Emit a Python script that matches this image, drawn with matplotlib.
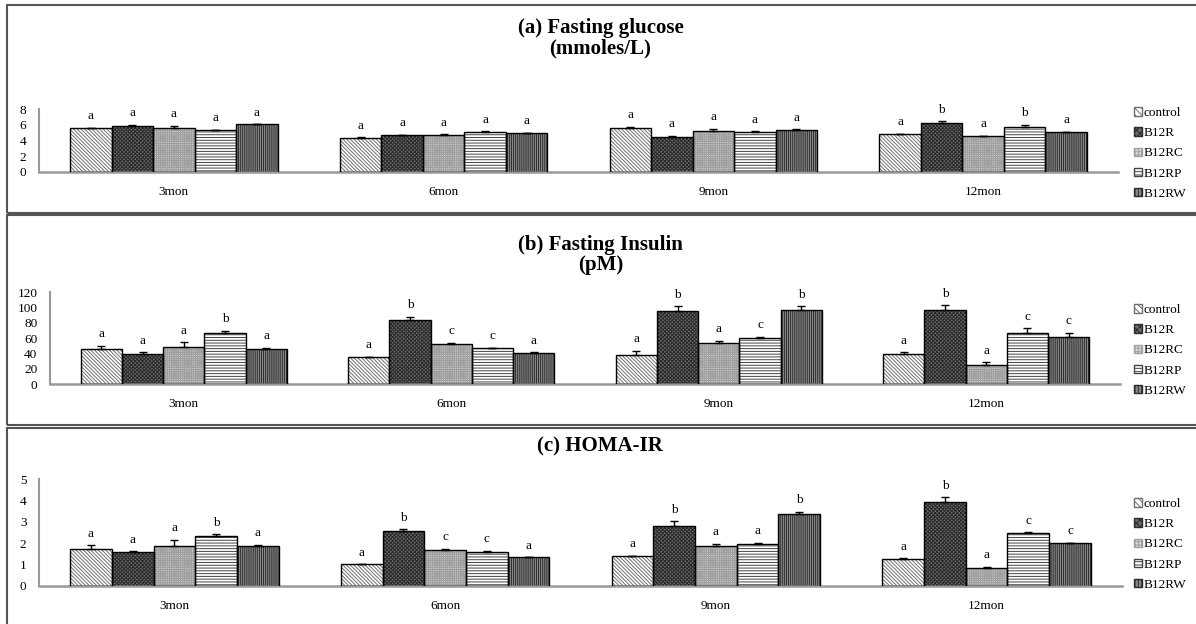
import numpy as np
import matplotlib
matplotlib.use("Agg")
import matplotlib.pyplot as plt
from matplotlib.patches import Rectangle, Patch

plt.rcParams['font.family'] = ['Liberation Serif', 'DejaVu Serif']
plt.rcParams['hatch.linewidth'] = 0.7

months = ['3mon', '6mon', '9mon', '12mon']
groups = ['control', 'B12R', 'B12RC', 'B12RP', 'B12RW']

# (a) fasting glucose, rows = groups, cols = months
glucose = [[5.55, 4.27, 5.55, 4.83],
           [5.80, 4.70, 4.49, 6.26],
           [5.55, 4.70, 5.20, 4.60],
           [5.33, 5.08, 5.08, 5.67],
           [6.05, 5.00, 5.33, 5.04]]
glucose_err = [[0.08, 0.15, 0.20, 0.0],
               [0.20, 0.0, 0.10, 0.20],
               [0.30, 0.10, 0.30, 0.0],
               [0.05, 0.10, 0.10, 0.30],
               [0.0, 0.0, 0.10, 0.05]]
glucose_sig = [['a', 'a', 'a', 'a'],
               ['a', 'a', 'a', 'b'],
               ['a', 'a', 'a', 'a'],
               ['a', 'a', 'a', 'b'],
               ['a', 'a', 'a', 'a']]

# (b) fasting insulin
insulin = [[46, 35.2, 38.6, 40],
           [40, 84, 95.6, 97],
           [48.6, 52, 53.8, 24.8],
           [67, 47, 60, 67.3],
           [46, 41, 96.5, 62]]
insulin_err = [[4, 1, 5, 2],
               [2, 4, 6, 6],
               [6.5, 2, 3, 4],
               [3, 1, 2, 5.7],
               [2, 1, 5, 5]]
insulin_sig = [['a', 'a', 'a', 'a'],
               ['a', 'b', 'b', 'b'],
               ['a', 'c', 'a', 'a'],
               ['b', 'c', 'c', 'c'],
               ['a', 'a', 'b', 'c']]

# (c) HOMA-IR
homa = [[1.71, 1.01, 1.40, 1.26],
        [1.59, 2.58, 2.80, 3.91],
        [1.85, 1.67, 1.88, 0.83],
        [2.32, 1.57, 1.96, 2.46],
        [1.85, 1.34, 3.35, 2.01]]
homa_err = [[0.19, 0.0, 0.0, 0.03],
            [0.03, 0.07, 0.23, 0.23],
            [0.30, 0.07, 0.10, 0.06],
            [0.10, 0.07, 0.05, 0.06],
            [0.07, 0.0, 0.12, 0.02]]
homa_sig = [['a', 'a', 'a', 'a'],
            ['a', 'b', 'b', 'b'],
            ['a', 'c', 'a', 'a'],
            ['b', 'c', 'a', 'c'],
            ['a', 'a', 'b', 'c']]

# face colour, hatch, hatch colour per group
styles = [('white', '\\' * 9, '#6f6f6f'),
          ('#6a6a6a', 'x' * 9, '#2a2a2a'),
          ('#dadada', '+' * 9, '#a0a0a0'),
          ('white', '-' * 6, '#444444'),
          ('#8a8a8a', '|' * 8, '#2a2a2a')]

W, H = 1196, 624
fig = plt.figure(figsize=(W / 100, H / 100), dpi=100)


def fx(px):
    return px / W


def fy(py):
    return 1 - py / H


# panel frames
for top, bot in [(5, 212.5), (215.5, 424.5), (427.5, 640)]:
    fig.patches.append(Rectangle((fx(7), fy(bot)), fx(1250) - fx(7), fy(top) - fy(bot),
                                 transform=fig.transFigure, fill=False,
                                 edgecolor='#555555', linewidth=1.5))

panels = [
    dict(vals=glucose, err=glucose_err, sig=glucose_sig, ylim=8, ystep=2,
         box=(39, 1118, 109, 172), title='(a) Fasting glucose\n(mmoles/L)', ty=38, leg=107),
    dict(vals=insulin, err=insulin_err, sig=insulin_sig, ylim=120, ystep=20,
         box=(50, 1120, 292.3, 384.3), title='(b) Fasting Insulin\n(pM)', ty=255, leg=304),
    dict(vals=homa, err=homa_err, sig=homa_sig, ylim=5, ystep=1,
         box=(39, 1122, 479, 586), title='(c) HOMA-IR', ty=446, leg=498),
]

bw = 0.154
x = np.arange(len(months))

for p in panels:
    x0, x1, y0, y1 = p['box']
    ax = fig.add_axes([fx(x0), fy(y1), fx(x1) - fx(x0), fy(y0) - fy(y1)])
    for i, g in enumerate(groups):
        fc, h, hc = styles[i]
        xs = x + (i - 2) * bw
        ax.bar(xs, p['vals'][i], bw, color=fc, hatch=h, edgecolor=hc, linewidth=0, zorder=2)
        ax.bar(xs, p['vals'][i], bw, fill=False, edgecolor='black', linewidth=1.0, zorder=3)
        errs = np.array(p['err'][i])
        ax.errorbar(xs, p['vals'][i], yerr=[np.zeros_like(errs), errs], fmt='none',
                    ecolor='black', elinewidth=1, capsize=3, capthick=1, zorder=4)
        for xx, v, e, s in zip(xs, p['vals'][i], errs, p['sig'][i]):
            ax.annotate(s, (xx, v + e), xytext=(0, 4), textcoords='offset points',
                        ha='center', va='bottom', fontsize=9.5)
    ax.set_xlim(-0.5, len(months) - 0.5)
    ax.set_ylim(0, p['ylim'])
    ax.set_yticks(np.arange(0, p['ylim'] + 0.01, p['ystep']))
    ax.set_xticks(x)
    ax.set_xticklabels(months)
    ax.tick_params(axis='both', length=0, labelsize=9.5)
    ax.tick_params(axis='x', pad=10)
    ax.tick_params(axis='y', pad=9)
    for s in ['top', 'right']:
        ax.spines[s].set_visible(False)
    ax.spines['left'].set_color('#999999')
    ax.spines['bottom'].set_color('#999999')
    ax.spines['left'].set_linewidth(1.5)
    ax.spines['bottom'].set_linewidth(1.8)
    ax.patch.set_visible(False)

    fig.text(0.502, fy(p['ty']), p['title'], ha='center', va='center', fontsize=15,
             fontweight='bold', linespacing=1.0)

    handles = [Patch(facecolor=styles[i][0], hatch=styles[i][1][:5], edgecolor=styles[i][2])
               for i in range(len(groups))]
    fig.legend(handles, groups, loc='upper left', bbox_to_anchor=(fx(1134), fy(p['leg'])),
               frameon=False, fontsize=9.5, handlelength=0.6, handleheight=0.6,
               handletextpad=0.15, labelspacing=0.62, borderpad=0, borderaxespad=0)

fig.savefig('out.png', dpi=100)
